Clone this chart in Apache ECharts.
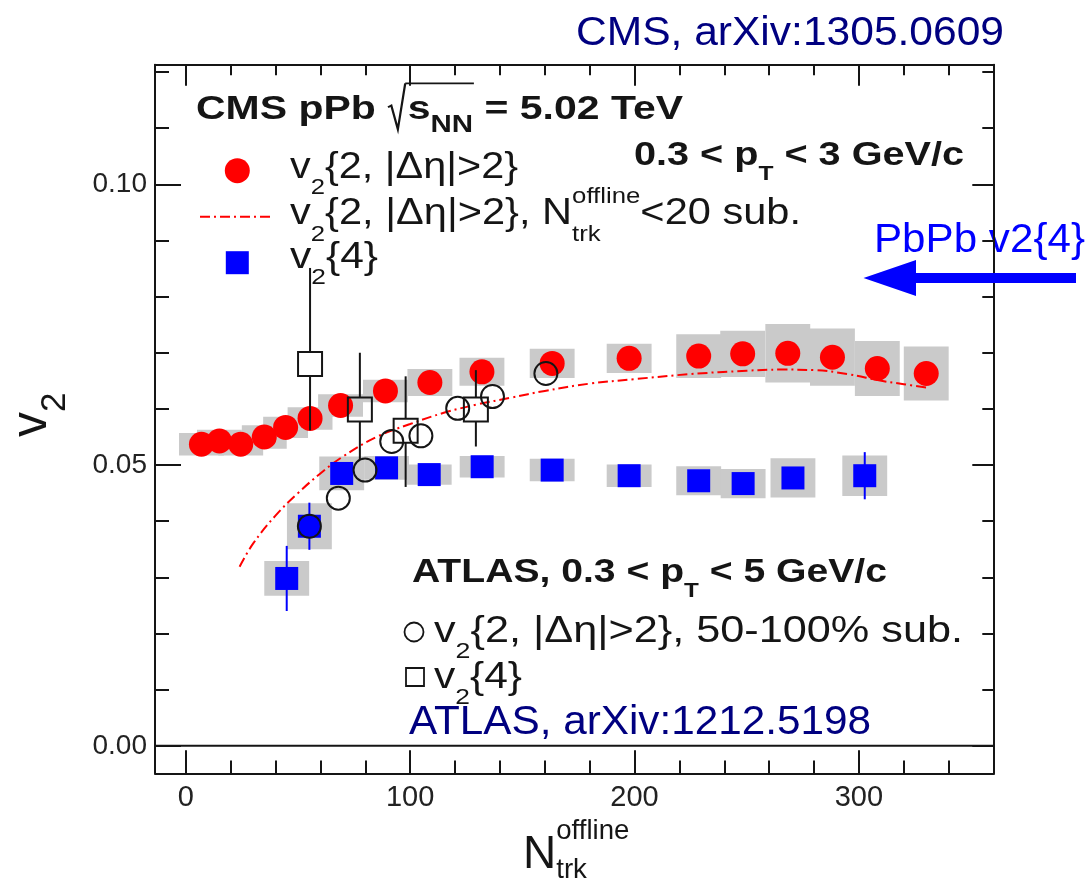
<!DOCTYPE html>
<html>
<head>
<meta charset="utf-8">
<script src="https://cdn.jsdelivr.net/npm/echarts@6/dist/echarts.min.js"></script>
<style>
html, body { margin: 0; padding: 0; background: #ffffff; }
#chart { width: 1089px; height: 881px; }
</style>
</head>
<body>
<div id="chart"></div>
<script>
// ---- CMS pPb, v2{2, |Δη|>2} ----
const cmsN      = [7, 15, 24.5, 35, 44.5, 55.4, 69, 89, 108.8, 132, 163.3, 197.6, 228.6, 248.2, 268.3, 288.2, 308.2, 330];
const cmsV2     = [0.0537, 0.0543, 0.0537, 0.0550, 0.0567, 0.0583, 0.0606, 0.0632, 0.0647, 0.0666, 0.0681, 0.0690, 0.0694, 0.0698, 0.0699, 0.0692, 0.0672, 0.0663];
const cmsV2Sys  = [0.0020, 0.0020, 0.0020, 0.0021, 0.0019, 0.0020, 0.0020, 0.0020, 0.0024, 0.0025, 0.0026, 0.0026, 0.0039, 0.0041, 0.0052, 0.0051, 0.0049, 0.0048];

// ---- CMS pPb, v2{4} ----
const cms4N     = [45, 55.1, 69.5, 89.5, 108.5, 132.1, 163.3, 197.6, 228.6, 248.4, 270.6, 302.6];
const cms4V     = [0.0298, 0.0391, 0.0485, 0.0495, 0.0483, 0.0497, 0.0491, 0.0481, 0.0472, 0.0467, 0.0477, 0.0481];
const cms4Sys   = [0.0031, 0.0041, 0.0030, 0.0021, 0.0018, 0.0019, 0.0020, 0.0020, 0.0026, 0.0026, 0.0035, 0.0036];
const cms4Stat  = [0.0058, 0.0042, 0.0010, 0.0010, 0.0010, 0.0010, 0.0010, 0.0010, 0.0010, 0.0010, 0.0010, 0.0042];

// ---- ATLAS, v2{2, |Δη|>2}, 50-100% subtracted ----
const atlasN    = [55.1, 68, 79.9, 91.8, 104.8, 121.2, 136.7, 160.5];
const atlasV2   = [0.0391, 0.0441, 0.0491, 0.0542, 0.0552, 0.0601, 0.0622, 0.0663];

// ---- ATLAS, v2{4} (asymmetric errors) ----
const atlas4N   = [55.4, 77.6, 98, 129.3];
const atlas4V   = [0.0680, 0.0599, 0.0561, 0.0599];
const atlas4Lo  = [0.0562, 0.0509, 0.0461, 0.0533];
const atlas4Hi  = [0.0851, 0.0700, 0.0658, 0.0669];

// ---- CMS v2{2} with N_trk < 20 subtracted (curve) ----
const fitN = [24, 30, 40, 50, 60, 70, 85, 100, 115, 130, 145, 160, 180, 200, 225, 250, 265, 280, 295, 310, 320, 330];
const fitV = [0.0319, 0.0360, 0.0410, 0.0450, 0.0485, 0.0515, 0.0550, 0.0573, 0.0593, 0.0608, 0.0620, 0.0632, 0.0645, 0.0653, 0.0662, 0.0668, 0.0670, 0.0669, 0.0662, 0.0650, 0.0644, 0.0638];

// ---- axis ticks ----
const xMajor = [0, 100, 200, 300];
const xMinor = [20, 40, 60, 80, 120, 140, 160, 180, 220, 240, 260, 280, 320, 340];
const yMajor = [0, 0.05, 0.10];
const yMinor = [0.01, 0.02, 0.03, 0.04, 0.06, 0.07, 0.08, 0.09, 0.11, 0.12];

const X_MIN = -13.7, X_MAX = 360.2;
const Y_MIN = -0.0049, Y_MAX = 0.1213;

const FONT = '"Liberation Sans", Arial, Helvetica, sans-serif';
const INK = '#151515';
const RED = '#ff0000', BLUE = '#0000ff', GREY = '#cacaca', NAVY = '#000080';

// ---------- text helpers (ROOT-like sub/superscripts) ----------
const measureCtx = document.createElement('canvas').getContext('2d');
function advance(str, size, bold) {
  measureCtx.font = (bold ? 'bold ' : '') + size + 'px ' + FONT;
  return measureCtx.measureText(str).width;
}
const MID = 0.3465; // canvas 'middle' baseline above alphabetic baseline, in em

function richLine(spec) {
  const S = spec.size, bold = !!spec.bold;
  const sr = spec.subRatio || 0.62;
  const subDy = (spec.subShift != null ? spec.subShift : 0.4) * S;
  const supDy = -(spec.supShift != null ? spec.supShift : 0.55) * S;
  const color = spec.color || INK;
  const kids = [];
  let cx = 0, barStart = null;
  const put = (str, size, dy, x) => {
    kids.push({
      type: 'text', x: x, y: dy - MID * size,
      style: { text: str, fontSize: size, fontFamily: FONT, fontWeight: bold ? 'bold' : 'normal',
               fill: color, align: 'left', verticalAlign: 'middle' }
    });
    return advance(str, size, bold);
  };
  for (const part of spec.parts) {
    const [str, kind, extra] = part;
    if (!kind) cx += put(str, S, 0, cx);
    else if (kind === 'sub') cx += put(str, S * sr, subDy, cx);
    else if (kind === 'sup') cx += put(str, S * sr, supDy, cx);
    else if (kind === 'subsup') {
      const w1 = put(str, S * sr, subDy, cx);
      const w2 = put(extra, S * sr, supDy, cx);
      cx += Math.max(w1, w2);
    } else if (kind === 'root') {
      // hand-drawn radical sign with overbar
      const w = 0.5 * S;
      kids.push({
        type: 'polyline',
        shape: { points: [[0.02 * S + cx, -0.42 * S], [0.1 * S + cx, -0.47 * S], [0.26 * S + cx, 0.25 * S], [0.44 * S + cx, -1.14 * S]] },
        style: { stroke: color, lineWidth: 1.8, fill: null }
      });
      barStart = 0.44 * S + cx;
      cx += w;
    } else if (kind === 'endroot') {
      kids.push({
        type: 'line',
        shape: { x1: barStart, y1: -1.14 * S, x2: cx + 0.02 * S, y2: -1.14 * S },
        style: { stroke: color, lineWidth: 1.8 }
      });
    }
  }
  const sx = spec.width ? spec.width / cx : 1;
  return { type: 'group', x: spec.x, y: spec.y, scaleX: sx, rotation: spec.rotation || 0, children: kids, z: 100 };
}

// ---------- annotation texts ----------
const annotations = [
  { x: 576, y: 48, size: 40, color: NAVY, width: 428, parts: [['CMS, arXiv:1305.0609']] },
  { x: 874, y: 255, size: 40, color: BLUE, width: 211, parts: [['PbPb v2{4}']] },
  { x: 196, y: 121, size: 33, bold: true, width: 487, subRatio: 0.72, subShift: 0.38,
    parts: [['CMS pPb '], ['', 'root'], ['s'], ['NN', 'sub'], ['', 'endroot'], [' = 5.02 TeV']] },
  { x: 634, y: 167, size: 33, bold: true, width: 330, subRatio: 0.62, subShift: 0.45,
    parts: [['0.3 < p'], ['T', 'sub'], [' < 3 GeV/c']] },
  { x: 290, y: 181, size: 36, width: 228, parts: [['v'], ['2', 'sub'], ['{2, |Δη|>2}']] },
  { x: 290, y: 226.5, size: 36, width: 511, subShift: 0.45, supShift: 0.6,
    parts: [['v'], ['2', 'sub'], ['{2, |Δη|>2}, N'], ['trk', 'subsup', 'offline'], ['<20 sub.']] },
  { x: 290, y: 271, size: 36, width: 88, parts: [['v'], ['2', 'sub'], ['{4}']] },
  { x: 412, y: 584, size: 33, bold: true, width: 475, subRatio: 0.62, subShift: 0.45,
    parts: [['ATLAS, 0.3 < p'], ['T', 'sub'], [' < 5 GeV/c']] },
  { x: 434, y: 645, size: 36, width: 529, parts: [['v'], ['2', 'sub'], ['{2, |Δη|>2}, 50-100% sub.']] },
  { x: 434, y: 691, size: 36, width: 88, parts: [['v'], ['2', 'sub'], ['{4}']] },
  { x: 409, y: 737, size: 40, color: NAVY, width: 462, parts: [['ATLAS, arXiv:1212.5198']] },
  // axis titles
  { x: 523, y: 871, size: 46, subRatio: 0.6, subShift: 0.2, supShift: 0.65,
    parts: [['N'], ['trk', 'subsup', 'offline']] },
  { x: 50, y: 437, size: 50, rotation: Math.PI / 2, subRatio: 0.7, subShift: 0.34,
    parts: [['v'], ['2', 'sub']] }
];

// legend markers and the PbPb arrow
const markers = [
  { type: 'circle', shape: { cx: 237.3, cy: 170.7, r: 12.5 }, style: { fill: RED }, z: 100 },
  { type: 'line', shape: { x1: 200, y1: 216.7, x2: 273, y2: 216.7 },
    style: { stroke: RED, lineWidth: 2, lineDash: [10, 4, 2, 4] }, z: 100 },
  { type: 'rect', shape: { x: 225.8, y: 251.2, width: 23, height: 23 }, style: { fill: BLUE }, z: 100 },
  { type: 'circle', shape: { cx: 414, cy: 632, r: 9.5 }, style: { fill: null, stroke: INK, lineWidth: 1.8 }, z: 100 },
  { type: 'rect', shape: { x: 406, y: 668, width: 18, height: 18 }, style: { fill: null, stroke: INK, lineWidth: 1.8 }, z: 100 },
  { type: 'polygon', shape: { points: [[1076, 273], [916, 273], [916, 260], [863.5, 278], [916, 296], [916, 283], [1076, 283]] },
    style: { fill: BLUE }, z: 100 }
];

// ---------- series helpers ----------
function boxSeries(ns, vs, es) {
  return {
    type: 'custom', z: 1, silent: true,
    data: ns.map((n, i) => [n, vs[i], es[i]]),
    renderItem: (params, api) => {
      const x = api.value(0), y = api.value(1), e = api.value(2);
      const p1 = api.coord([x - 10, y + e]);
      const p2 = api.coord([x + 10, y - e]);
      return { type: 'rect', shape: { x: p1[0], y: p1[1], width: p2[0] - p1[0], height: p2[1] - p1[1] },
               style: { fill: GREY } };
    }
  };
}
function barSeries(ns, vs, los, his, color, gap, z) {
  return {
    type: 'custom', z: z, silent: true,
    data: ns.map((n, i) => [n, vs[i], los[i], his[i]]),
    renderItem: (params, api) => {
      const x = api.value(0), y = api.value(1);
      const c = api.coord([x, y]);
      const top = api.coord([x, api.value(3)]);
      const bot = api.coord([x, api.value(2)]);
      const kids = [];
      if (top[1] < c[1] - gap) kids.push({ type: 'line', shape: { x1: c[0], y1: top[1], x2: c[0], y2: c[1] - gap }, style: { stroke: color, lineWidth: 2 } });
      if (bot[1] > c[1] + gap) kids.push({ type: 'line', shape: { x1: c[0], y1: c[1] + gap, x2: c[0], y2: bot[1] }, style: { stroke: color, lineWidth: 2 } });
      return { type: 'group', children: kids };
    }
  };
}
const pairs = (ns, vs) => ns.map((n, i) => [n, vs[i]]);

// ---------- axes (frame with inward ticks on all four sides) ----------
const frameLine = { show: true, onZero: false, lineStyle: { color: INK, width: 2 } };
const noLine = { show: false, onZero: false };
const tickStyle = { color: INK, width: 2 };
function xAx(pos, values, len, withLine, withLabels) {
  return {
    type: 'value', position: pos, min: X_MIN, max: X_MAX,
    axisLine: withLine ? frameLine : noLine,
    axisTick: { show: true, inside: true, length: len, customValues: values, lineStyle: tickStyle },
    axisLabel: withLabels ? { show: true, customValues: values, fontSize: 29, fontFamily: FONT, color: '#222', margin: 10 }
                          : { show: false },
    splitLine: { show: false }
  };
}
function yAx(pos, values, len, withLine, withLabels) {
  return {
    type: 'value', position: pos, min: Y_MIN, max: Y_MAX,
    axisLine: withLine ? frameLine : noLine,
    axisTick: { show: true, inside: true, length: len, customValues: values, lineStyle: tickStyle },
    axisLabel: withLabels ? { show: true, customValues: values, fontSize: 28, fontFamily: FONT, color: '#222', margin: 8,
                              formatter: v => v.toFixed(2) }
                          : { show: false },
    splitLine: { show: false }
  };
}

const chart = echarts.init(document.getElementById('chart'), null, { renderer: 'canvas' });
chart.setOption({
  backgroundColor: '#ffffff',
  animation: false,
  grid: { left: 155, right: 95, top: 64.7, bottom: 107.7, containLabel: false },
  xAxis: [
    xAx('bottom', xMajor, 23, true, true),
    xAx('bottom', xMinor, 12.7, false, false),
    xAx('top', xMajor, 21, true, false),
    xAx('top', xMinor, 10.5, false, false)
  ],
  yAxis: [
    yAx('left', yMajor, 26, true, true),
    yAx('left', yMinor, 14, false, false),
    yAx('right', yMajor, 21.7, true, false),
    yAx('right', yMinor, 11.7, false, false)
  ],
  series: [
    boxSeries(cmsN, cmsV2, cmsV2Sys),
    boxSeries(cms4N, cms4V, cms4Sys),
    {
      type: 'line', name: 'zero', data: [[X_MIN, 0], [X_MAX, 0]], symbol: 'none', z: 2, silent: true,
      lineStyle: { color: INK, width: 2 }
    },
    {
      type: 'line', name: 'sub', data: pairs(fitN, fitV), symbol: 'none', smooth: 0.4, z: 3, silent: true,
      lineStyle: { color: RED, width: 2, type: [10, 4, 2, 4] }
    },
    {
      type: 'scatter', name: 'cms v2{2}', data: pairs(cmsN, cmsV2), symbol: 'circle', symbolSize: 25, z: 4,
      itemStyle: { color: RED, opacity: 1 }
    },
    barSeries(cms4N, cms4V, cms4V.map((v, i) => v - cms4Stat[i]), cms4V.map((v, i) => v + cms4Stat[i]), BLUE, 0, 4),
    {
      type: 'scatter', name: 'cms v2{4}', data: pairs(cms4N, cms4V), symbol: 'rect', symbolSize: 23, z: 5,
      itemStyle: { color: BLUE, opacity: 1 }
    },
    {
      type: 'scatter', name: 'atlas v2{2}', data: pairs(atlasN, atlasV2), symbol: 'circle', symbolSize: 23, z: 6,
      itemStyle: { color: 'rgba(0,0,0,0)', borderColor: INK, borderWidth: 2, opacity: 1 }
    },
    barSeries(atlas4N, atlas4V, atlas4Lo, atlas4Hi, INK, 12, 6),
    {
      type: 'scatter', name: 'atlas v2{4}', data: pairs(atlas4N, atlas4V), symbol: 'rect', symbolSize: 24, z: 7,
      itemStyle: { color: 'rgba(0,0,0,0)', borderColor: INK, borderWidth: 2, opacity: 1 }
    }
  ],
  graphic: annotations.map(richLine).concat(markers)
});
</script>
</body>
</html>
